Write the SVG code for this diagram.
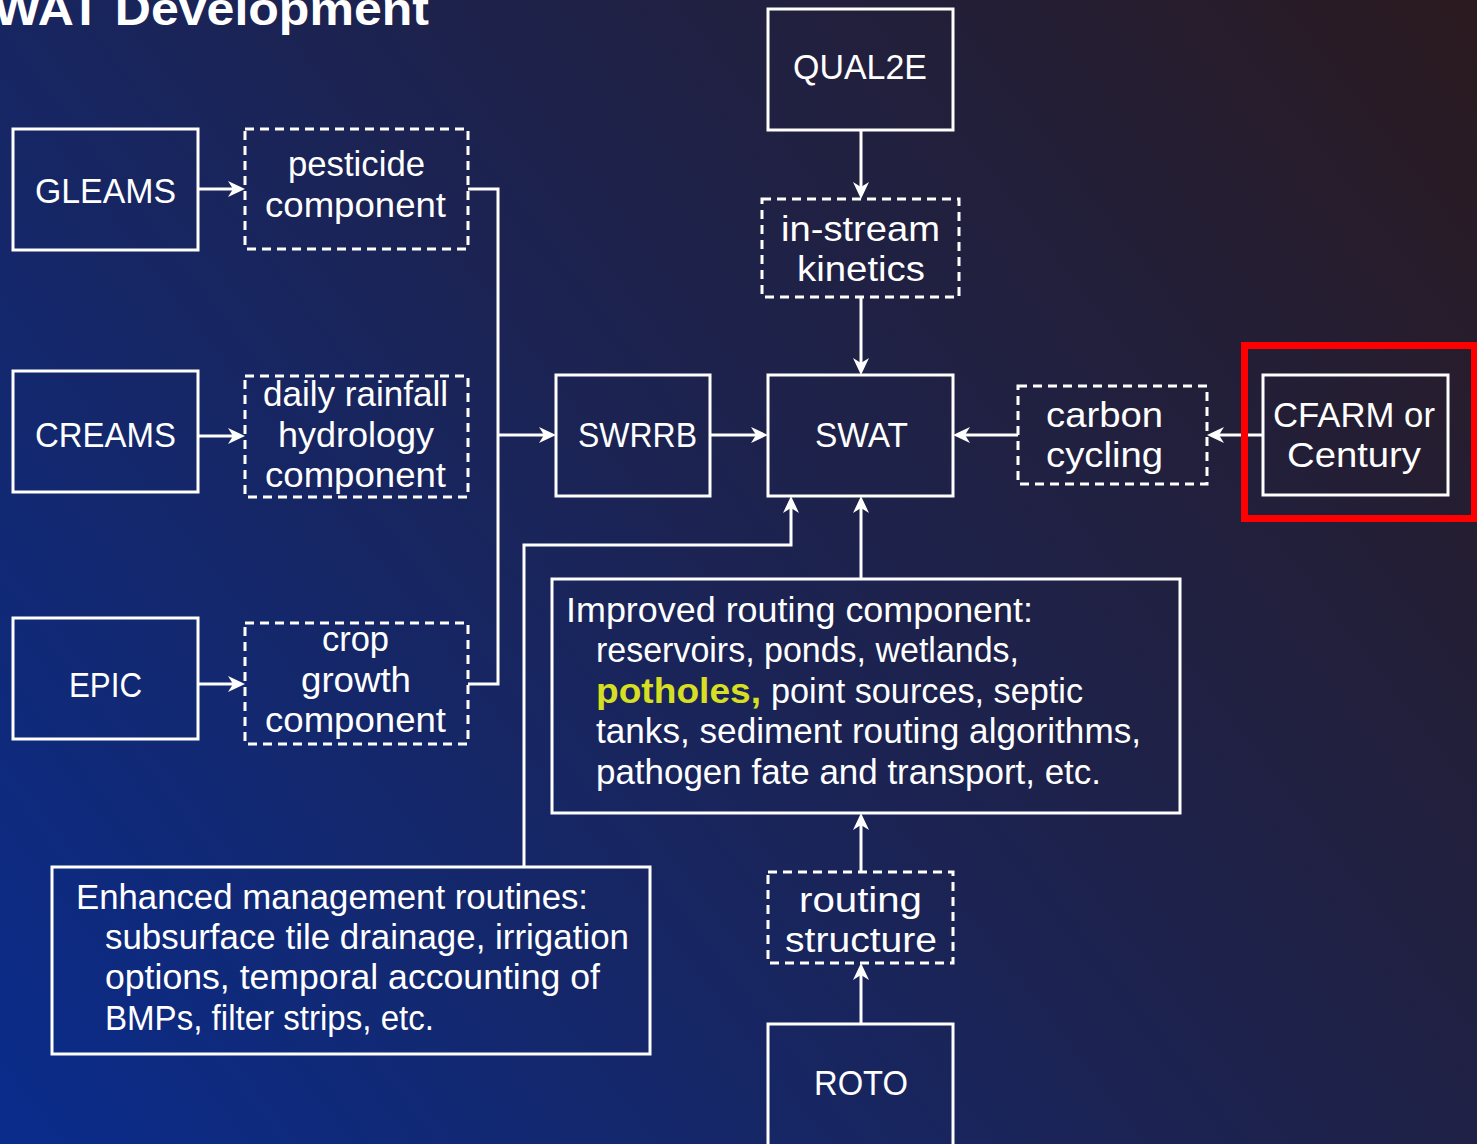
<svg xmlns="http://www.w3.org/2000/svg" width="1477" height="1144" viewBox="0 0 1477 1144">
<defs>
<linearGradient id="bg" gradientUnits="userSpaceOnUse" x1="0" y1="1144" x2="1477" y2="0">
<stop offset="0" stop-color="#0a2c8c"/>
<stop offset="0.25" stop-color="#13286f"/>
<stop offset="0.5" stop-color="#1c2352"/>
<stop offset="0.75" stop-color="#221f3a"/>
<stop offset="1" stop-color="#2b1a1f"/>
</linearGradient>
<marker id="arr" markerUnits="userSpaceOnUse" viewBox="-18 -9 19 18" refX="-12" refY="0" markerWidth="19" markerHeight="18" orient="auto">
<path d="M0,0 L-17,-8 L-12,0 L-17,8 Z" fill="#ffffff"/>
</marker>
</defs>
<style>
.box{fill:none;stroke:#ffffff;stroke-width:3}
.dash{fill:none;stroke:#ffffff;stroke-width:3;stroke-dasharray:9 6}
.con{fill:none;stroke:#ffffff;stroke-width:3}
text{font-family:"Liberation Sans",Arial,sans-serif;font-size:35px;fill:#ffffff}
.c{text-anchor:middle}
.title{font-weight:bold;font-size:46px}
.hl{font-weight:bold;fill:#d7df23}
</style>
<rect x="0" y="0" width="1477" height="1144" fill="url(#bg)"/>
<text class="title" x="-40" y="25" textLength="469" lengthAdjust="spacingAndGlyphs">SWAT Development</text>

<g id="connectors">
<path class="con" d="M198,189 H233" marker-end="url(#arr)"/>
<path class="con" d="M198,436 H233" marker-end="url(#arr)"/>
<path class="con" d="M198,684 H233" marker-end="url(#arr)"/>
<path class="con" d="M468,189 H498 V684 H468"/>
<path class="con" d="M498,435 H544" marker-end="url(#arr)"/>
<path class="con" d="M710,435 H756" marker-end="url(#arr)"/>
<path class="con" d="M861,130 V187" marker-end="url(#arr)"/>
<path class="con" d="M861,297 V363" marker-end="url(#arr)"/>
<path class="con" d="M1018,435 H965" marker-end="url(#arr)"/>
<path class="con" d="M1263,435 H1219" marker-end="url(#arr)"/>
<path class="con" d="M861,579 V508" marker-end="url(#arr)"/>
<path class="con" d="M524,867 V545 H791 V508" marker-end="url(#arr)"/>
<path class="con" d="M861,872 V825" marker-end="url(#arr)"/>
<path class="con" d="M861,1024 V975" marker-end="url(#arr)"/>
</g>

<g id="gleams">
<rect class="box" x="13" y="129" width="185" height="121"/>
<text class="c" x="105.5" y="203" textLength="141" lengthAdjust="spacingAndGlyphs">GLEAMS</text>
</g>
<g id="pesticide">
<rect class="dash" x="245" y="129" width="223" height="120"/>
<text class="c"><tspan x="356.5" y="176" textLength="137" lengthAdjust="spacingAndGlyphs">pesticide</tspan><tspan x="355.5" y="217" textLength="181" lengthAdjust="spacingAndGlyphs">component</tspan></text>
</g>
<g id="creams">
<rect class="box" x="13" y="371" width="185" height="121"/>
<text class="c" x="105.5" y="447" textLength="141" lengthAdjust="spacingAndGlyphs">CREAMS</text>
</g>
<g id="rainfall">
<rect class="dash" x="245" y="376" width="223" height="121"/>
<text class="c"><tspan x="355.5" y="406" textLength="185" lengthAdjust="spacingAndGlyphs">daily rainfall</tspan><tspan x="356" y="447" textLength="156" lengthAdjust="spacingAndGlyphs">hydrology</tspan><tspan x="355.5" y="487" textLength="181" lengthAdjust="spacingAndGlyphs">component</tspan></text>
</g>
<g id="epic">
<rect class="box" x="13" y="618" width="185" height="121"/>
<text class="c" x="105.5" y="697" textLength="73" lengthAdjust="spacingAndGlyphs">EPIC</text>
</g>
<g id="crop">
<rect class="dash" x="245" y="623" width="223" height="121"/>
<text class="c"><tspan x="355.5" y="651" textLength="67" lengthAdjust="spacingAndGlyphs">crop</tspan><tspan x="356" y="691.5" textLength="110" lengthAdjust="spacingAndGlyphs">growth</tspan><tspan x="355.5" y="731.5" textLength="181" lengthAdjust="spacingAndGlyphs">component</tspan></text>
</g>
<g id="swrrb">
<rect class="box" x="556" y="375" width="154" height="121"/>
<text class="c" x="637.5" y="447" textLength="119" lengthAdjust="spacingAndGlyphs">SWRRB</text>
</g>
<g id="swat">
<rect class="box" x="768" y="375" width="185" height="121"/>
<text class="c" x="861.5" y="447" textLength="93" lengthAdjust="spacingAndGlyphs">SWAT</text>
</g>
<g id="qual2e">
<rect class="box" x="768" y="9" width="185" height="121"/>
<text class="c" x="860" y="79" textLength="134" lengthAdjust="spacingAndGlyphs">QUAL2E</text>
</g>
<g id="instream">
<rect class="dash" x="762" y="199" width="197" height="98"/>
<text class="c"><tspan x="860.5" y="240.5" textLength="159" lengthAdjust="spacingAndGlyphs">in-stream</tspan><tspan x="861" y="280.5" textLength="128" lengthAdjust="spacingAndGlyphs">kinetics</tspan></text>
</g>
<g id="carbon">
<rect class="dash" x="1018" y="386" width="189" height="98"/>
<text class="c"><tspan x="1104.5" y="427" textLength="117" lengthAdjust="spacingAndGlyphs">carbon</tspan><tspan x="1104.5" y="467" textLength="117" lengthAdjust="spacingAndGlyphs">cycling</tspan></text>
</g>
<g id="cfarm">
<rect class="box" x="1263" y="375" width="185" height="120"/>
<text class="c"><tspan x="1354" y="427" textLength="162" lengthAdjust="spacingAndGlyphs">CFARM or</tspan><tspan x="1354" y="467" textLength="134" lengthAdjust="spacingAndGlyphs">Century</tspan></text>
</g>
<g id="highlight">
<rect x="1244.5" y="345.5" width="230" height="173" fill="none" stroke="#ff0000" stroke-width="7"/>
</g>
<g id="improved">
<rect class="box" x="552" y="579" width="628" height="234"/>
<text><tspan x="566" y="622" textLength="467" lengthAdjust="spacingAndGlyphs">Improved routing component:</tspan><tspan x="596" y="662" textLength="423" lengthAdjust="spacingAndGlyphs">reservoirs, ponds, wetlands,</tspan><tspan class="hl" x="596" y="703" textLength="165" lengthAdjust="spacingAndGlyphs">potholes,</tspan><tspan x="771" y="703" textLength="312" lengthAdjust="spacingAndGlyphs">point sources, septic</tspan><tspan x="596" y="743" textLength="545" lengthAdjust="spacingAndGlyphs">tanks, sediment routing algorithms,</tspan><tspan x="596" y="784" textLength="505" lengthAdjust="spacingAndGlyphs">pathogen fate and transport, etc.</tspan></text>
</g>
<g id="enhanced">
<rect class="box" x="52" y="867" width="598" height="187"/>
<text><tspan x="76" y="909" textLength="512" lengthAdjust="spacingAndGlyphs">Enhanced management routines:</tspan><tspan x="105" y="949" textLength="524" lengthAdjust="spacingAndGlyphs">subsurface tile drainage, irrigation</tspan><tspan x="105" y="989" textLength="495" lengthAdjust="spacingAndGlyphs">options, temporal accounting of</tspan><tspan x="105" y="1030" textLength="329" lengthAdjust="spacingAndGlyphs">BMPs, filter strips, etc.</tspan></text>
</g>
<g id="routing">
<rect class="dash" x="768" y="872" width="185" height="91"/>
<text class="c"><tspan x="860.5" y="912" textLength="123" lengthAdjust="spacingAndGlyphs">routing</tspan><tspan x="861" y="952" textLength="152" lengthAdjust="spacingAndGlyphs">structure</tspan></text>
</g>
<g id="roto">
<rect class="box" x="768" y="1024" width="185" height="135"/>
<text class="c" x="861" y="1095" textLength="94" lengthAdjust="spacingAndGlyphs">ROTO</text>
</g>
</svg>
